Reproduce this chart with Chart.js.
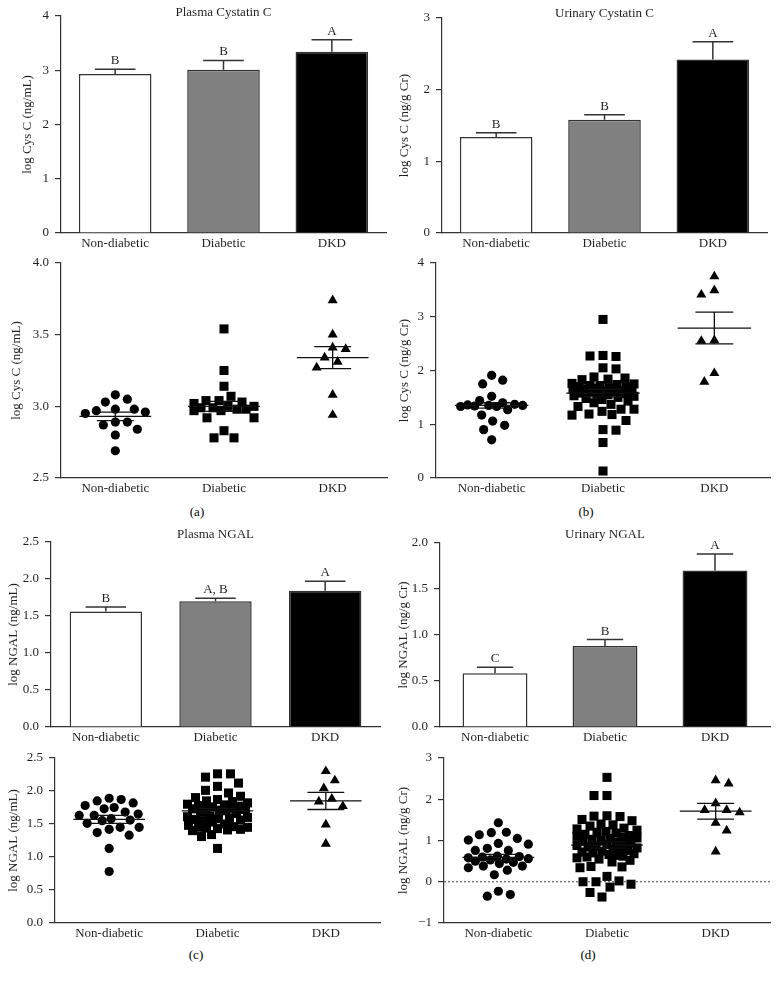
<!DOCTYPE html>
<html>
<head>
<meta charset="utf-8">
<script src="https://cdn.jsdelivr.net/npm/chart.js@4.4.1/dist/chart.umd.min.js"></script>
<style>
  body { margin: 0; background: #fff; width: 779px; height: 982px; position: relative; overflow: hidden; font-family: "Liberation Serif", serif; }
  canvas { position: absolute; }
  .cap { position: absolute; width: 40px; text-align: center; font-size: 13px; color: #000; line-height: 16px; opacity: 0.99; }
</style>
</head>
<body>
<div class="cap" style="left:177px;top:504px">(a)</div>
<div class="cap" style="left:566px;top:504px">(b)</div>
<div class="cap" style="left:176px;top:947px">(c)</div>
<div class="cap" style="left:568px;top:947px">(d)</div>
<script>
const groups = ['Non-diabetic', 'Diabetic', 'DKD'];

// bar panels: mean and upper error bar, letters above
const plasmaCysMean = [2.93, 3.01, 3.34];
const plasmaCysErr = [0.09, 0.17, 0.22];
const plasmaCysLetters = ['B', 'B', 'A'];

const urineCysMean = [1.34, 1.58, 2.42];
const urineCysErr = [0.06, 0.07, 0.25];
const urineCysLetters = ['B', 'B', 'A'];

const plasmaNgalMean = [1.56, 1.70, 1.84];
const plasmaNgalErr = [0.06, 0.04, 0.13];
const plasmaNgalLetters = ['B', 'A, B', 'A'];

const urineNgalMean = [0.585, 0.88, 1.70];
const urineNgalErr = [0.065, 0.07, 0.18];
const urineNgalLetters = ['C', 'B', 'A'];

// dot panels: individual values
const plasmaCysNon = [3.08, 3.05, 3.03, 2.98, 2.98, 2.97, 2.96, 2.95, 2.89, 2.89, 2.87, 2.84, 2.80, 2.69];
const plasmaCysDiab = [3.54, 3.25, 3.14, 3.07, 3.04, 3.04, 3.03, 3.02, 3.00, 3.00, 2.99, 2.99, 2.98, 2.98, 2.97, 2.97, 2.92, 2.92, 2.83, 2.78, 2.78];
const plasmaCysDkd = [3.74, 3.50, 3.41, 3.40, 3.34, 3.31, 3.27, 3.08, 2.94];
const plasmaCysDotMean = [2.93, 3.00, 3.34];
const plasmaCysDotSem = [0.03, 0.035, 0.077];

const urineCysNon = [1.91, 1.82, 1.75, 1.52, 1.44, 1.40, 1.37, 1.36, 1.35, 1.35, 1.34, 1.33, 1.33, 1.27, 1.17, 1.06, 0.98, 0.90, 0.71];
const urineCysDiab = [2.95, 2.28, 2.27, 2.26, 2.05, 2.03, 1.88, 1.86, 1.84, 1.83, 1.76, 1.75, 1.74, 1.72, 1.72, 1.70, 1.70, 1.68, 1.67, 1.66,
  1.65, 1.64, 1.63, 1.62, 1.61, 1.60, 1.58, 1.57, 1.56, 1.55, 1.53, 1.52, 1.50, 1.48, 1.46, 1.43, 1.40, 1.37, 1.33, 1.28,
  1.28, 1.24, 1.19, 1.18, 1.17, 1.07, 0.90, 0.89, 0.66, 0.13];
const urineCysDkd = [3.75, 3.49, 3.41, 2.56, 2.55, 1.95, 1.79];
const urineCysDotMean = [1.35, 1.58, 2.79];
const urineCysDotSem = [0.05, 0.07, 0.295];

const plasmaNgalNon = [1.89, 1.87, 1.85, 1.82, 1.78, 1.75, 1.73, 1.68, 1.65, 1.63, 1.63, 1.58, 1.56, 1.55, 1.51, 1.45, 1.45, 1.42, 1.37, 1.33, 1.13, 0.78];
const plasmaNgalDiab = [2.26, 2.26, 2.21, 2.12, 2.07, 2.01, 1.97, 1.92, 1.90, 1.87, 1.85, 1.84, 1.82, 1.80, 1.79, 1.78, 1.77, 1.76, 1.75, 1.74,
  1.73, 1.72, 1.71, 1.70, 1.68, 1.66, 1.62, 1.61, 1.60, 1.59, 1.58, 1.57, 1.56, 1.55, 1.53, 1.50, 1.48, 1.46, 1.45, 1.45,
  1.44, 1.43, 1.42, 1.41, 1.40, 1.34, 1.31, 1.13];
const plasmaNgalDkd = [2.30, 2.16, 2.04, 1.88, 1.84, 1.77, 1.49, 1.20];
const plasmaNgalDotMean = [1.57, 1.70, 1.85];
const plasmaNgalDotSem = [0.06, 0.035, 0.13];

const urineNgalNon = [1.43, 1.20, 1.19, 1.14, 1.05, 1.01, 0.93, 0.91, 0.81, 0.76, 0.76, 0.62, 0.61, 0.60, 0.58, 0.56, 0.55, 0.53, 0.50, 0.47,
  0.44, 0.38, 0.38, 0.34, 0.28, 0.17, -0.23, -0.31, -0.35];
const urineNgalDiab = [2.53, 2.09, 2.09, 1.60, 1.59, 1.58, 1.51, 1.48, 1.40, 1.38, 1.35, 1.30, 1.28, 1.25, 1.22, 1.20, 1.18, 1.15, 1.12, 1.10,
  1.08, 1.06, 1.05, 1.03, 1.00, 0.98, 0.96, 0.94, 0.92, 0.90, 0.88, 0.86, 0.84, 0.82, 0.80, 0.78, 0.76, 0.74, 0.72, 0.70,
  0.68, 0.66, 0.64, 0.62, 0.60, 0.58, 0.55, 0.52, 0.48, 0.37, 0.36, 0.34, 0.13, 0.02, 0.00, 0.00, -0.06, -0.13, -0.26, -0.37];
const urineNgalDkd = [2.46, 2.38, 1.90, 1.74, 1.74, 1.68, 1.43, 1.24, 0.73];
const urineNgalDotMean = [0.59, 0.89, 1.71];
const urineNgalDotSem = [0.075, 0.075, 0.19];

const INK = '#231f20';
const LINE = '#333';
const FONT = { family: '"Liberation Serif", "Times New Roman", serif', size: 13 };
const TOP_PAD = 14, RIGHT_PAD = 8, X_H = 24;

// upper error bars + group letters on bar panels
const barMarks = {
  id: 'barMarks',
  afterDatasetsDraw(chart, args, opts) {
    if (!opts.err) return;
    const { ctx } = chart;
    const y = chart.scales.y;
    const vals = chart.data.datasets[0].data;
    ctx.save();
    chart.getDatasetMeta(0).data.forEach((bar, i) => {
      const top = y.getPixelForValue(vals[i] + opts.err[i]);
      const half = bar.width * 0.28;
      ctx.strokeStyle = LINE;
      ctx.lineWidth = 1.5;
      ctx.beginPath();
      ctx.moveTo(bar.x, bar.y);
      ctx.lineTo(bar.x, top);
      ctx.moveTo(bar.x - half, top);
      ctx.lineTo(bar.x + half, top);
      ctx.stroke();
      ctx.fillStyle = INK;
      ctx.font = '13px ' + FONT.family;
      ctx.textAlign = 'center';
      ctx.textBaseline = 'alphabetic';
      ctx.fillText(opts.letters[i], bar.x, top - 5);
    });
    ctx.restore();
  }
};

// small title drawn at the top of the plot area
const panelTitle = {
  id: 'panelTitle',
  afterDraw(chart, args, opts) {
    if (!opts.text) return;
    const { ctx, chartArea } = chart;
    ctx.save();
    ctx.fillStyle = INK;
    ctx.font = '13px ' + FONT.family;
    ctx.textAlign = 'center';
    ctx.textBaseline = 'middle';
    ctx.fillText(opts.text, (chartArea.left + chartArea.right) / 2, chartArea.top + opts.dy);
    ctx.restore();
  }
};

// mean and SEM lines on dot panels, optional dotted zero line
const meanSem = {
  id: 'meanSem',
  beforeDatasetsDraw(chart, args, opts) {
    if (!opts.zero) return;
    const { ctx, chartArea, scales: { y } } = chart;
    const y0 = y.getPixelForValue(0);
    ctx.save();
    ctx.strokeStyle = '#444';
    ctx.lineWidth = 1;
    ctx.setLineDash([2, 2]);
    ctx.beginPath();
    ctx.moveTo(chartArea.left, y0);
    ctx.lineTo(chartArea.right, y0);
    ctx.stroke();
    ctx.restore();
  },
  afterDatasetsDraw(chart, args, opts) {
    if (!opts.mean) return;
    const { ctx, scales: { x, y } } = chart;
    const w = x.getPixelForValue(1) - x.getPixelForValue(0);
    ctx.save();
    ctx.strokeStyle = '#111';
    ctx.lineWidth = 1.3;
    opts.mean.forEach((m, i) => {
      const cx = x.getPixelForValue(i);
      const ym = y.getPixelForValue(m);
      const yh = y.getPixelForValue(m + opts.sem[i]);
      const yl = y.getPixelForValue(m - opts.sem[i]);
      ctx.beginPath();
      ctx.moveTo(cx - w * 0.33, ym); ctx.lineTo(cx + w * 0.33, ym);
      ctx.moveTo(cx - w * 0.17, yh); ctx.lineTo(cx + w * 0.17, yh);
      ctx.moveTo(cx - w * 0.17, yl); ctx.lineTo(cx + w * 0.17, yl);
      ctx.moveTo(cx, yh); ctx.lineTo(cx, yl);
      ctx.stroke();
    });
    ctx.restore();
  }
};

// spread points sideways so they do not sit on top of each other
const SHAPE_GAP = { circle: 2.6, rect: 1.9, triangle: 2.2 };
const swarm = {
  id: 'swarm',
  afterDatasetsUpdate(chart) {
    const xs = chart.scales.x;
    const maxOff = Math.round((xs.getPixelForValue(1) - xs.getPixelForValue(0)) * 0.28);
    chart.data.datasets.forEach((ds, di) => {
      const gap = ds.pointRadius * SHAPE_GAP[ds.pointStyle];
      const pts = chart.getDatasetMeta(di).data.slice().sort((a, b) => a.y - b.y);
      const placed = [];
      pts.forEach((p, n) => {
        const cx = p.x;
        const dir = n % 2 ? 1 : -1;
        let best = cx, bestD = -1;
        for (let k = 0; k <= 2 * maxOff; k++) {
          const off = Math.ceil(k / 2) * (k % 2 ? dir : -dir);
          const x = cx + off;
          let d = Infinity;
          placed.forEach(q => { d = Math.min(d, Math.hypot(q.x - x, q.y - p.y)); });
          if (d >= gap) { best = x; bestD = d; break; }
          if (d > bestD) { bestD = d; best = x; }
        }
        p.x = best;
        placed.push({ x: best, y: p.y });
      });
    });
  }
};

function makeCanvas(area, yw) {
  const c = document.createElement('canvas');
  c.width = area.r - area.l + yw + RIGHT_PAD;
  c.height = area.b - area.t + TOP_PAD + X_H;
  c.style.left = (area.l - yw) + 'px';
  c.style.top = (area.t - TOP_PAD) + 'px';
  document.body.appendChild(c);
  return c;
}

function yAxis(min, max, step, dec, title, yw) {
  return {
    min: min, max: max,
    ticks: { stepSize: step, color: INK, font: FONT, padding: 6,
      callback: v => v.toFixed(dec).replace('-', '\u2212') },
    grid: { drawOnChartArea: false, drawTicks: true, tickLength: 6, color: LINE, lineWidth: 1.2 },
    border: { display: true, color: LINE, width: 1.2 },
    title: { display: true, text: title, color: INK, font: FONT, padding: { top: 0, bottom: 0 } },
    afterFit: s => { s.width = yw; }
  };
}

function xBase() {
  return {
    grid: { display: false, drawTicks: false },
    border: { display: true, color: LINE, width: 1.2 },
    ticks: { color: INK, font: FONT, padding: 3, maxRotation: 0, autoSkip: false },
    afterFit: s => { s.height = X_H; }
  };
}

function common() {
  return { animation: false, responsive: false, devicePixelRatio: 1,
    layout: { padding: { top: TOP_PAD, right: RIGHT_PAD, left: 0, bottom: 0 } } };
}

function barPanel(area, yw, y, values, err, letters, title, dy, barPct) {
  const opts = common();
  opts.scales = { x: xBase(), y: y };
  opts.plugins = { legend: { display: false }, tooltip: { enabled: false },
    barMarks: { err: err, letters: letters }, panelTitle: { text: title, dy: dy } };
  new Chart(makeCanvas(area, yw), {
    type: 'bar',
    data: { labels: groups, datasets: [{ data: values,
      backgroundColor: ['#ffffff', '#808080', '#000000'], borderColor: LINE, borderWidth: 1.5,
      barPercentage: barPct, categoryPercentage: 1 }] },
    options: opts,
    plugins: [barMarks, panelTitle]
  });
}

function dotPanel(area, yw, y, sets, mean, sem, zero) {
  const styles = [['circle', 4.6], ['rect', 6.4], ['triangle', 5.8]];
  const opts = common();
  const x = xBase();
  x.type = 'linear';
  x.min = -0.5; x.max = 2.5;
  x.afterBuildTicks = a => { a.ticks = [0, 1, 2].map(v => ({ value: v })); };
  x.ticks.callback = v => groups[v];
  opts.scales = { x: x, y: y };
  opts.plugins = { legend: { display: false }, tooltip: { enabled: false },
    meanSem: { mean: mean, sem: sem, zero: zero } };
  new Chart(makeCanvas(area, yw), {
    type: 'scatter',
    data: { datasets: sets.map((vals, gi) => ({
      data: vals.map(v => ({ x: gi, y: v })),
      pointStyle: styles[gi][0], pointRadius: styles[gi][1],
      backgroundColor: '#000', borderWidth: 0, clip: false })) },
    options: opts,
    plugins: [swarm, meanSem]
  });
}

barPanel({ l: 61, t: 16, r: 386, b: 233 }, 41, yAxis(0, 4, 1, 0, 'log Cys C (ng/mL)', 41),
  plasmaCysMean, plasmaCysErr, plasmaCysLetters, 'Plasma Cystatin C', -3, 0.67);
barPanel({ l: 442, t: 18, r: 767, b: 233 }, 45, yAxis(0, 3, 1, 0, 'log Cys C (ng/g Cr)', 45),
  urineCysMean, urineCysErr, urineCysLetters, 'Urinary Cystatin C', -4, 0.67);
dotPanel({ l: 61, t: 263, r: 387, b: 478 }, 52, yAxis(2.5, 4, 0.5, 1, 'log Cys C (ng/mL)', 52),
  [plasmaCysNon, plasmaCysDiab, plasmaCysDkd], plasmaCysDotMean, plasmaCysDotSem, false);
dotPanel({ l: 436, t: 263, r: 770, b: 478 }, 39, yAxis(0, 4, 1, 0, 'log Cys C (ng/g Cr)', 39),
  [urineCysNon, urineCysDiab, urineCysDkd], urineCysDotMean, urineCysDotSem, false);
barPanel({ l: 51, t: 542, r: 380, b: 727 }, 45, yAxis(0, 2.5, 0.5, 1, 'log NGAL (ng/mL)', 45),
  plasmaNgalMean, plasmaNgalErr, plasmaNgalLetters, 'Plasma NGAL', -7, 0.66);
barPanel({ l: 440, t: 543, r: 770, b: 727 }, 44, yAxis(0, 2, 0.5, 1, 'log NGAL (ng/g Cr)', 44),
  urineNgalMean, urineNgalErr, urineNgalLetters, 'Urinary NGAL', -8, 0.59);
dotPanel({ l: 55, t: 758, r: 380, b: 923 }, 49, yAxis(0, 2.5, 0.5, 1, 'log NGAL (ng/mL)', 49),
  [plasmaNgalNon, plasmaNgalDiab, plasmaNgalDkd], plasmaNgalDotMean, plasmaNgalDotSem, false);
dotPanel({ l: 444, t: 758, r: 770, b: 923 }, 48, yAxis(-1, 3, 1, 0, 'log NGAL (ng/g Cr)', 48),
  [urineNgalNon, urineNgalDiab, urineNgalDkd], urineNgalDotMean, urineNgalDotSem, true);
</script>
</body>
</html>
